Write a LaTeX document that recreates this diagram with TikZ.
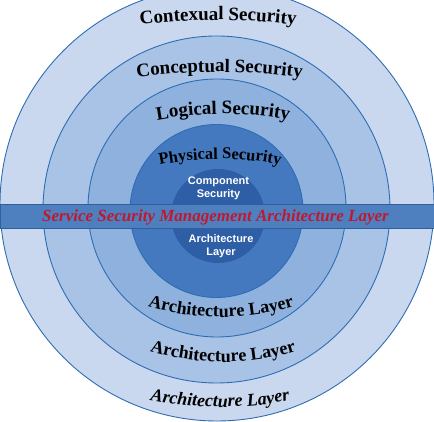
\documentclass[tikz,border=0pt]{standalone}
\usepackage{fontspec}
\setmainfont{Liberation Serif}
\newfontfamily\arialfont{Liberation Sans}
\usetikzlibrary{decorations.text}
\definecolor{ringA}{HTML}{C9D8EE}
\definecolor{ringB}{HTML}{A9C3E6}
\definecolor{ringC}{HTML}{8FB1DE}
\definecolor{ringD}{HTML}{4479C0}
\definecolor{ringE}{HTML}{2D5EA6}
\definecolor{edgeblue}{HTML}{2E6DB4}
\definecolor{bandfill}{HTML}{4E80C0}
\definecolor{bandedge}{HTML}{2F5F9C}
\definecolor{bandred}{HTML}{C0182F}
\tikzset{
  ring/.style={draw=edgeblue, line width=0.9pt},
  ringlabel/.style={decorate, decoration={text along path, text align=center, text={#1}}},
  innerlabel/.style={font=\arialfont\bfseries\fontsize{11}{13}\selectfont, text=white, align=center}
}
\begin{document}
\begin{tikzpicture}[x=1pt,y=1pt]
\useasboundingbox (0,0) rectangle (434,422);
\begin{scope}
\clip (0,0) rectangle (434,422);
\fill[ringA] (217,218) circle[radius=217pt];
\draw[ring] (217,218) circle[radius=217pt];
\end{scope}
\filldraw[ring, fill=ringB] (216.5,212.5) circle[radius=173.5pt];
\filldraw[ring, fill=ringC] (217,214) circle[radius=129pt];
\filldraw[ring, fill=ringD] (216.5,211) circle[radius=86.5pt];
\fill[ringE] (218,206) circle[radius=47pt];
\node[draw=bandedge, line width=0.9pt, fill=bandfill, minimum width=434pt, minimum height=24pt, inner sep=0pt, anchor=south west] (band) at (0,193) {};
\node[font=\bfseries\itshape\fontsize{17}{17}\selectfont, text=bandred, inner sep=0pt] (bandtext) at (215.5,205) {Service Security Management Architecture Layer};
\node[innerlabel] (comp) at (218.5,233.5) {Component\\Security};
\node[innerlabel] (arch) at (221,176) {Architecture\\Layer};
% top labels
\path[ringlabel={|\bfseries\fontsize{19}{19}\selectfont|Contexual Security}] (218,-198) ++(110:600pt) arc[start angle=110, end angle=70, radius=600pt];
\path[ringlabel={|\bfseries\fontsize{19}{19}\selectfont|Conceptual Security}] (219.5,-250) ++(110:600pt) arc[start angle=110, end angle=70, radius=600pt];
\path[ringlabel={|\bfseries\fontsize{19}{19}\selectfont|Logical Security}] (223,-52) ++(120:360pt) arc[start angle=120, end angle=60, radius=360pt];
\path[ringlabel={|\bfseries\fontsize{16.5}{16.5}\selectfont|Physical Security}] (220,-47) ++(120:310pt) arc[start angle=120, end angle=60, radius=310pt];
% bottom labels
\path[ringlabel={|\bfseries\fontsize{18}{18}\selectfont|Architecture Layer}] (221,365) ++(240:260pt) arc[start angle=240, end angle=300, radius=260pt];
\path[ringlabel={|\bfseries\fontsize{18}{18}\selectfont|Architecture Layer}] (223,310) ++(240:250pt) arc[start angle=240, end angle=300, radius=250pt];
\path[ringlabel={|\bfseries\itshape\fontsize{18}{18}\selectfont|Architecture Layer}] (220,395) ++(250:380pt) arc[start angle=250, end angle=290, radius=380pt];
\end{tikzpicture}
\end{document}
